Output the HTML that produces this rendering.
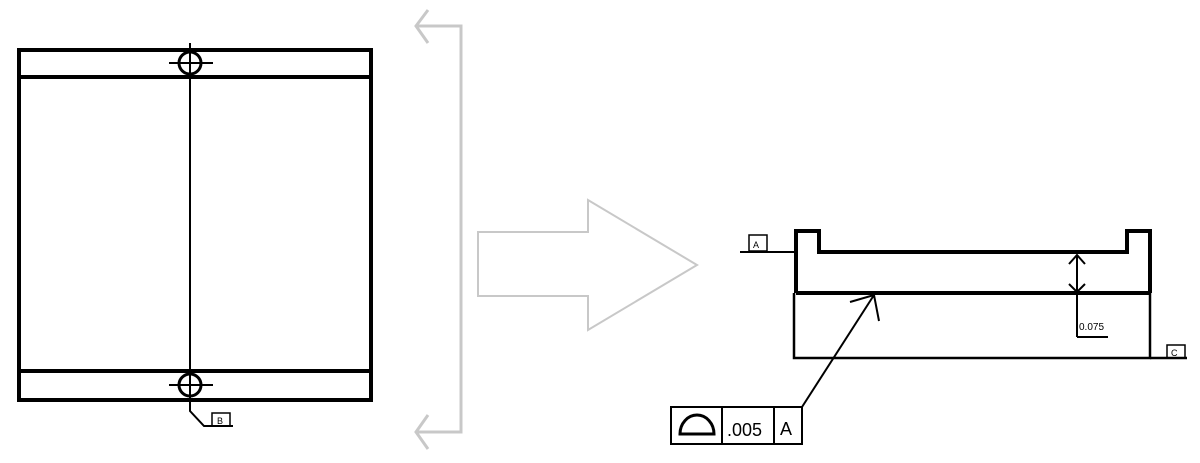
<!DOCTYPE html>
<html><head><style>html,body{margin:0;padding:0;background:#fff;}svg{display:block}</style></head>
<body>
<svg width="1200" height="463" viewBox="0 0 1200 463" xmlns="http://www.w3.org/2000/svg" font-family="Liberation Sans, sans-serif">
<g stroke="#000" fill="none">
<rect x="19" y="50" width="352" height="350" stroke-width="4"/>
<line x1="19" y1="77" x2="371" y2="77" stroke-width="4"/>
<line x1="19" y1="371" x2="371" y2="371" stroke-width="4"/>
<circle cx="190" cy="63" r="11" stroke-width="3"/>
<circle cx="190" cy="385" r="11" stroke-width="3"/>
<line x1="169" y1="63" x2="213" y2="63" stroke-width="2"/>
<line x1="169" y1="385" x2="213" y2="385" stroke-width="2"/>
<polyline points="190,43 190,411 204,426 233,426" stroke-width="2"/>
<rect x="212" y="413" width="18" height="13" stroke-width="1.5"/>
</g>
<text x="217" y="424" font-size="9">B</text>
<g stroke="#c8c8c8" stroke-width="3" fill="none">
<polyline points="416,26 461,26 461,432 416,432"/>
<polyline points="428,10 416,26 428,43"/>
<polyline points="428,415 416,432 428,449"/>
<polygon points="478,232 588,232 588,200 697,265 588,330 588,296 478,296" stroke-width="2"/>
</g>
<g stroke="#000" fill="none">
<line x1="740" y1="252" x2="796" y2="252" stroke-width="2"/>
<rect x="749" y="235" width="18" height="16" stroke-width="1.5"/>
<polyline points="796,293 796,231 819,231 819,252 1127,252 1127,231 1150,231 1150,293" stroke-width="4"/>
<line x1="796" y1="293" x2="1150" y2="293" stroke-width="4"/>
<polyline points="794,293 794,358 1150,358 1150,293" stroke-width="2.5"/>
<line x1="1150" y1="358" x2="1187" y2="358" stroke-width="2.5"/>
<rect x="1167" y="345" width="18" height="13" stroke-width="1.5"/>
<line x1="1077" y1="255" x2="1077" y2="337" stroke-width="2"/>
<line x1="1077" y1="337" x2="1108" y2="337" stroke-width="2"/>
<polyline points="1069,264 1077,255 1085,264" stroke-width="2"/>
<polyline points="1069,284 1077,292 1085,284" stroke-width="2"/>
<line x1="802" y1="407" x2="874" y2="295" stroke-width="2"/>
<polyline points="850,302 874,295 879,321" stroke-width="2"/>
<rect x="671" y="407" width="131" height="37" stroke-width="2"/>
<line x1="722" y1="407" x2="722" y2="444" stroke-width="2"/>
<line x1="774" y1="407" x2="774" y2="444" stroke-width="2"/>
<path d="M680,434 A17,19 0 0 1 714,434 Z" stroke-width="3"/>
</g>
<text x="753" y="248" font-size="9">A</text>
<text x="1171" y="356" font-size="9">C</text>
<text x="1079" y="330" font-size="10">0.075</text>
<text x="727" y="436" font-size="18">.005</text>
<text x="780" y="435" font-size="18">A</text>
</svg>
</body></html>
